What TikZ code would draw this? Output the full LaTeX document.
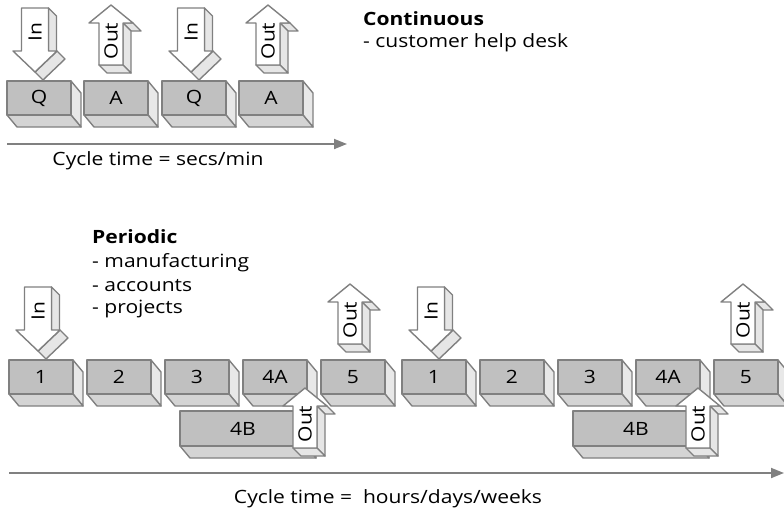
\documentclass[tikz,border=0pt]{standalone}
\usepackage{fontspec}
\setmainfont{Open Sans}[FakeStretch=1.15]
\usetikzlibrary{arrows.meta}
\definecolor{edgec}{HTML}{808080}
\definecolor{frontc}{HTML}{C0C0C0}
\definecolor{bottomc}{HTML}{D4D4D4}
\definecolor{sidec}{HTML}{E8E8E8}
\definecolor{arrside}{HTML}{E6E6E6}
\tikzset{
  face/.style={draw=edgec, line width=1.4pt, line join=round},
  lbl/.style={font=\fontsize{18.3}{22}\selectfont, inner sep=0pt, text=black},
  txt/.style={font=\fontsize{18.3}{22}\selectfont, inner sep=0pt, anchor=base west},
  axis/.style={draw=edgec, line width=1.8pt, -{Triangle[length=13pt,width=10pt]}},
}
% 3D box: name, x, y, w, h, label
\newcommand{\cubebox}[6]{%
  \filldraw[face, fill=sidec] ({#2+#4},{#3}) -- ({#2+#4+10},{#3+12}) -- ({#2+#4+10},{#3+#5+12}) -- ({#2+#4},{#3+#5}) -- cycle;
  \filldraw[face, fill=bottomc] ({#2},{#3+#5}) -- ({#2+#4},{#3+#5}) -- ({#2+#4+10},{#3+#5+12}) -- ({#2+10},{#3+#5+12}) -- cycle;
  \filldraw[face, fill=frontc] ({#2},{#3}) rectangle ({#2+#4},{#3+#5});
  \node[lbl] (#1) at ({#2+#4/2},{#3+#5/2}) {#6};
}
% In arrow (pointing down): name, cx, top
\newcommand{\inarrow}[3]{%
  \filldraw[face, fill=arrside] ({#2+13.5},{#3}) -- ({#2+21.5},{#3+8}) -- ({#2+21.5},{#3+51}) -- ({#2+13.5},{#3+43}) -- cycle;
  \filldraw[face, fill=arrside] ({#2+22},{#3+43}) -- ({#2+30},{#3+51}) -- ({#2+8},{#3+72}) -- ({#2},{#3+64}) -- cycle;
  \filldraw[face, fill=white] ({#2-13.5},{#3}) -- ({#2+13.5},{#3}) -- ({#2+13.5},{#3+43}) -- ({#2+22},{#3+43}) -- ({#2},{#3+64}) -- ({#2-22},{#3+43}) -- ({#2-13.5},{#3+43}) -- cycle;
  \node[lbl, rotate=90] (#1) at ({#2},{#3+24}) {In};
}
% Out arrow (pointing up): name, cx, tip
\newcommand{\outarrow}[3]{%
  \filldraw[face, fill=arrside] ({#2+22},{#3+18}) -- ({#2+12},{#3+18}) -- ({#2+20},{#3+26}) -- ({#2+30},{#3+26}) -- cycle;
  \filldraw[face, fill=arrside] ({#2+12},{#3+18}) -- ({#2+12},{#3+60}) -- ({#2+20},{#3+68}) -- ({#2+20},{#3+26}) -- cycle;
  \filldraw[face, fill=arrside] ({#2-12},{#3+60}) -- ({#2+12},{#3+60}) -- ({#2+20},{#3+68}) -- ({#2-4},{#3+68}) -- cycle;
  \filldraw[face, fill=white] ({#2},{#3}) -- ({#2+22},{#3+18}) -- ({#2+12},{#3+18}) -- ({#2+12},{#3+60}) -- ({#2-12},{#3+60}) -- ({#2-12},{#3+18}) -- ({#2-22},{#3+18}) -- cycle;
  \node[lbl, rotate=90] (#1) at ({#2},{#3+36}) {Out};
}
\begin{document}
\begin{tikzpicture}[x=1pt, y=-1pt]
\useasboundingbox (0,0) rectangle (784,509);
\clip (0,0) rectangle (784,509);
% ---------- continuous ----------
\cubebox{q1}{7}{81}{64}{34}{Q}
\cubebox{a1}{84}{81}{64}{34}{A}
\cubebox{q2}{162}{81}{64}{34}{Q}
\cubebox{a2}{239}{81}{64}{34}{A}
\inarrow{in1}{35}{8}
\outarrow{out1}{111}{5}
\inarrow{in2}{191}{8}
\outarrow{out2}{268}{5}
\node[txt, font=\fontsize{18.3}{22}\selectfont\bfseries] (cont) at (363,25) {Continuous};
\node[txt] (helpdesk) at (363,47) {- customer help desk};
\coordinate (ax1s) at (7,144);
\coordinate (ax1e) at (347,144);
\draw[axis] (ax1s) -- (ax1e);
\node[txt, anchor=base] (ct1) at (158,165) {Cycle time = secs/min};
% ---------- periodic ----------
\node[txt, font=\fontsize{18.3}{22}\selectfont\bfseries] (per) at (92,243) {Periodic};
\node[txt] (manu) at (92,267) {- manufacturing};
\node[txt] (acc) at (92,291) {- accounts};
\node[txt] (proj) at (92,313) {- projects};
\foreach \s/\g in {0/a, 393/b} {
  \begin{scope}[xshift=\s pt]
    \cubebox{b1\g}{9}{360}{64}{34}{1}
    \cubebox{b2\g}{87}{360}{64}{34}{2}
    \cubebox{b3\g}{165}{360}{64}{34}{3}
    \cubebox{b4a\g}{243}{360}{64}{34}{4A}
    \cubebox{b5\g}{321}{360}{64}{34}{5}
    \inarrow{pin\g}{38}{287}
    \outarrow{pout\g}{350}{284}
    \cubebox{b4b\g}{180}{411}{126}{35}{4B}
    \outarrow{pout4\g}{305}{388}
  \end{scope}
}
\coordinate (ax2s) at (9,473);
\coordinate (ax2e) at (784,473);
\draw[axis] (ax2s) -- (ax2e);
\node[txt, anchor=base] (ct2) at (388,503) {Cycle time =\ \ hours/days/weeks};
\end{tikzpicture}
\end{document}
